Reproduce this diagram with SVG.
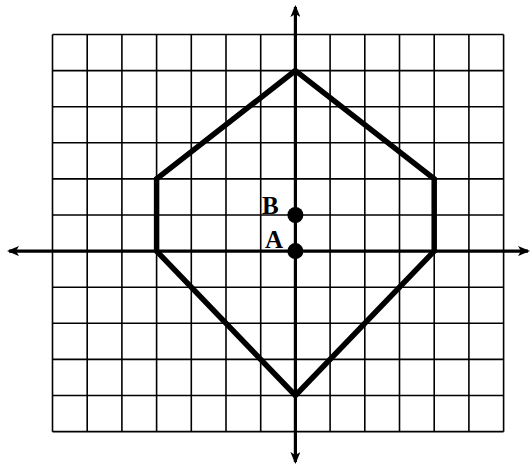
<svg xmlns="http://www.w3.org/2000/svg" width="530" height="464" viewBox="0 0 530 464">
<style>
.grid line{stroke:#000;stroke-width:1.6}
.axis{stroke:#000;stroke-width:3.2;fill:none}
.hex{stroke:#000;stroke-width:5.5;fill:none;stroke-linejoin:miter}
.lbl{font-family:"Liberation Serif",serif;font-weight:bold;font-size:25px;fill:#000}
</style>
<defs>
<marker id="ah" viewBox="0 0 12 10" refX="10" refY="5" markerWidth="12" markerHeight="10" markerUnits="userSpaceOnUse" orient="auto">
<path d="M0,0 L12,5 L0,10 L3,5 Z" fill="#000"/>
</marker>
</defs>
<g class="grid" id="grid">
<line x1="52.5" y1="34.5" x2="52.5" y2="431.7"/>
<line x1="87.2" y1="34.5" x2="87.2" y2="431.7"/>
<line x1="121.9" y1="34.5" x2="121.9" y2="431.7"/>
<line x1="156.6" y1="34.5" x2="156.6" y2="431.7"/>
<line x1="191.3" y1="34.5" x2="191.3" y2="431.7"/>
<line x1="226" y1="34.5" x2="226" y2="431.7"/>
<line x1="260.7" y1="34.5" x2="260.7" y2="431.7"/>
<line x1="330.1" y1="34.5" x2="330.1" y2="431.7"/>
<line x1="364.8" y1="34.5" x2="364.8" y2="431.7"/>
<line x1="399.5" y1="34.5" x2="399.5" y2="431.7"/>
<line x1="434.2" y1="34.5" x2="434.2" y2="431.7"/>
<line x1="468.9" y1="34.5" x2="468.9" y2="431.7"/>
<line x1="503.6" y1="34.5" x2="503.6" y2="431.7"/>
<line x1="52.5" y1="34.5" x2="503.6" y2="34.5"/>
<line x1="52.5" y1="70.6" x2="503.6" y2="70.6"/>
<line x1="52.5" y1="106.7" x2="503.6" y2="106.7"/>
<line x1="52.5" y1="142.8" x2="503.6" y2="142.8"/>
<line x1="52.5" y1="178.9" x2="503.6" y2="178.9"/>
<line x1="52.5" y1="215" x2="503.6" y2="215"/>
<line x1="52.5" y1="287.2" x2="503.6" y2="287.2"/>
<line x1="52.5" y1="323.3" x2="503.6" y2="323.3"/>
<line x1="52.5" y1="359.4" x2="503.6" y2="359.4"/>
<line x1="52.5" y1="395.5" x2="503.6" y2="395.5"/>
<line x1="52.5" y1="431.6" x2="503.6" y2="431.6"/>
</g>
<g id="axes">
<line class="axis" x1="295.4" y1="251.1" x2="9" y2="251.1" marker-end="url(#ah)"/>
<line class="axis" x1="295.4" y1="251.1" x2="528" y2="251.1" marker-end="url(#ah)"/>
<line class="axis" x1="295.4" y1="251.1" x2="295.4" y2="7" marker-end="url(#ah)"/>
<line class="axis" x1="295.4" y1="251.1" x2="295.4" y2="462" marker-end="url(#ah)"/>
</g>
<g id="hexagon">
<polygon class="hex" points="295.4,70.6 434.2,178.9 434.2,251.1 295.4,395.5 156.6,251.1 156.6,178.9"/>
</g>
<g id="pointB">
<circle cx="295.4" cy="215" r="8" fill="#000"/>
<text class="lbl" x="262" y="213.5">B</text>
</g>
<g id="pointA">
<circle cx="295.4" cy="251.1" r="8" fill="#000"/>
<text class="lbl" x="265" y="248">A</text>
</g>
</svg>
